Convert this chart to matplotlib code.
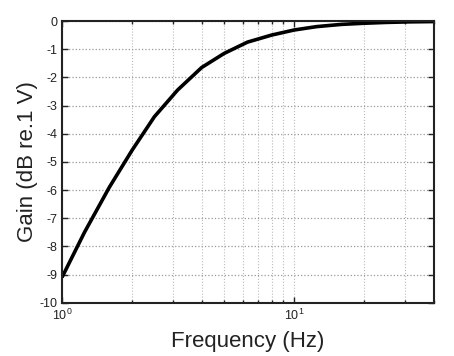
import matplotlib
matplotlib.use('Agg')
import matplotlib.pyplot as plt
from matplotlib.ticker import LogLocator, NullFormatter

# Frequenz (Hz) und Verstärkung (dB re. 1 V)
freq = [1.0, 1.25, 1.6, 2.0, 2.5, 3.15, 4.0, 5.0, 6.3, 8.0, 10.0,
        12.5, 16.0, 20.0, 25.0, 31.5, 40.0]
gain = [-9.1, -7.5, -5.9, -4.6, -3.4, -2.45, -1.65, -1.15, -0.75, -0.5, -0.32,
        -0.2, -0.12, -0.08, -0.05, -0.03, -0.02]
yticks = list(range(-10, 1))

plt.rcParams['font.family'] = ['Liberation Sans', 'DejaVu Sans']

fig = plt.figure(figsize=(4.54, 3.56), dpi=100)
ax = fig.add_axes([0.1366, 0.1497, 0.8187, 0.7913])

ax.semilogx(freq, gain, color='black', linewidth=2.6, solid_capstyle='butt')

ax.set_xlim(1, 40)
ax.set_ylim(-10, 0)
ax.set_yticks(yticks)
ax.set_yticklabels([str(t) for t in yticks])
ax.xaxis.set_major_locator(LogLocator(base=10))
ax.xaxis.set_minor_locator(LogLocator(base=10, subs=range(2, 10)))
ax.xaxis.set_minor_formatter(NullFormatter())

# Gitter gepunktet, y etwas dunkler
ax.grid(True, which='major', axis='y', color='#999999', linestyle=':', linewidth=0.9)
ax.grid(True, which='both', axis='x', color='#bbbbbb', linestyle=':', linewidth=0.8)

ax.tick_params(which='both', direction='in', top=True, right=True, labelsize=9,
               colors='#222222')
ax.tick_params(which='major', length=4, width=1)
ax.tick_params(which='minor', length=2.5, width=1)
for s in ax.spines.values():
    s.set_linewidth(1.5)
    s.set_color('#222222')

ax.set_xlabel('Frequency (Hz)', fontsize=16, color='#222222', labelpad=6)
ax.set_ylabel('Gain (dB re.1 V)', fontsize=16, color='#222222', labelpad=1)

fig.savefig('out.png', dpi=100)
